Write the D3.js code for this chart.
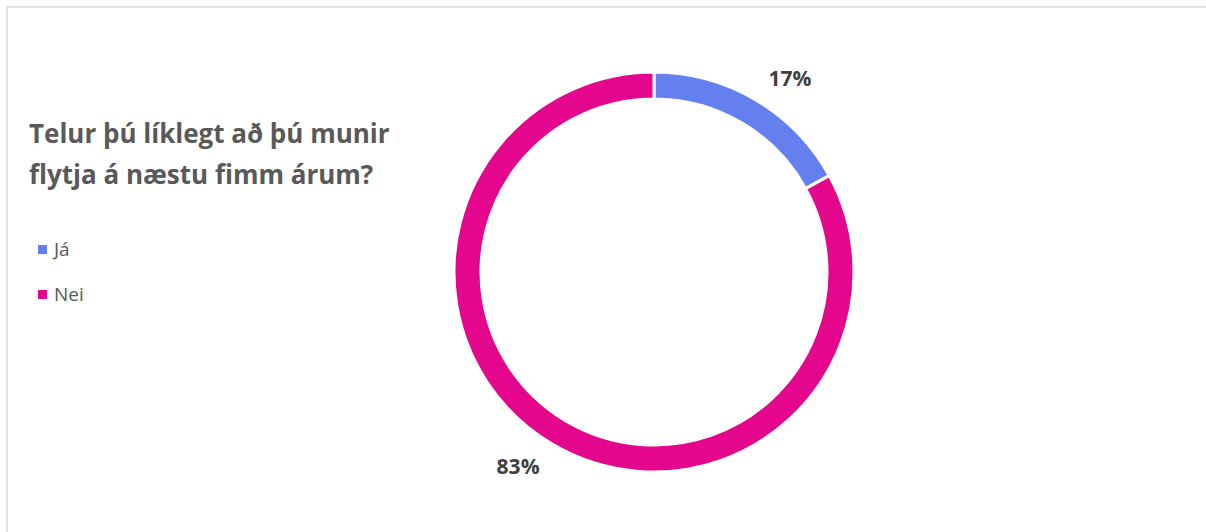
<!DOCTYPE html>
<html><head><meta charset="utf-8">
<script src="https://cdn.jsdelivr.net/npm/d3@7"></script>
<style>html,body{margin:0;padding:0;background:#fff;}svg{display:block;}</style>
</head><body>
<svg id="c" width="1206" height="532"></svg>
<script>
const categories = ["Já", "Nei"];
const values = [17, 83];
const labels = ["17%", "83%"];
const colors = ["#6480EF", "#E4068D"];
const titleLines = ["Telur þú líklegt að þú munir", "flytja á næstu fimm árum?"];

const svg = d3.select("#c");
const font = "'Open Sans', 'Liberation Sans', sans-serif";

// chart border
svg.append("rect").attr("x", 7).attr("y", 7).attr("width", 1210).attr("height", 540)
  .attr("fill", "#fff").attr("stroke", "#d9d9d9").attr("stroke-width", 1.5);

// title
svg.append("text").attr("x", 29).attr("y", 143)
  .attr("font-family", font).attr("font-weight", "bold").attr("font-size", 26).attr("fill", "#595959")
  .selectAll("tspan").data(titleLines).join("tspan")
  .attr("x", 29).attr("dy", (d, i) => i ? 41 : 0).text(d => d);

// legend
const leg = svg.append("g").selectAll("g").data(categories).join("g")
  .attr("transform", (d, i) => `translate(38, ${245 + i * 45})`);
leg.append("rect").attr("width", 9).attr("height", 9).attr("fill", (d, i) => colors[i]);
leg.append("text").attr("x", 16).attr("y", 11).attr("font-family", font).attr("font-size", 19)
  .attr("fill", "#595959").text(d => d);

// donut
const cx = 654, cy = 272, R = 200, r = 173;
const pie = d3.pie().sort(null).value(d => d);
const arcs = pie(values);
const arc = d3.arc().innerRadius(r).outerRadius(R);
const g = svg.append("g").attr("transform", `translate(${cx},${cy})`);
g.selectAll("path").data(arcs).join("path")
  .attr("d", arc).attr("fill", (d, i) => colors[i])
  .attr("stroke", "#fff").attr("stroke-width", 3);

// labels outside end: box placed just beyond the ring along the slice mid-angle
const labelArc = d3.arc().innerRadius(R + 12).outerRadius(R + 12);
g.selectAll("text.lbl").data(arcs).join("text").attr("class", "lbl")
  .attr("transform", d => {
    const [x, y] = labelArc.centroid(d);
    return `translate(${x + Math.sign(x) * 28},${y + Math.sign(y) * 12})`;
  })
  .attr("text-anchor", "middle").attr("dominant-baseline", "central")
  .attr("font-family", font).attr("font-weight", "bold").attr("font-size", 21).attr("fill", "#404040")
  .text((d, i) => labels[i]);
</script>
</body></html>
